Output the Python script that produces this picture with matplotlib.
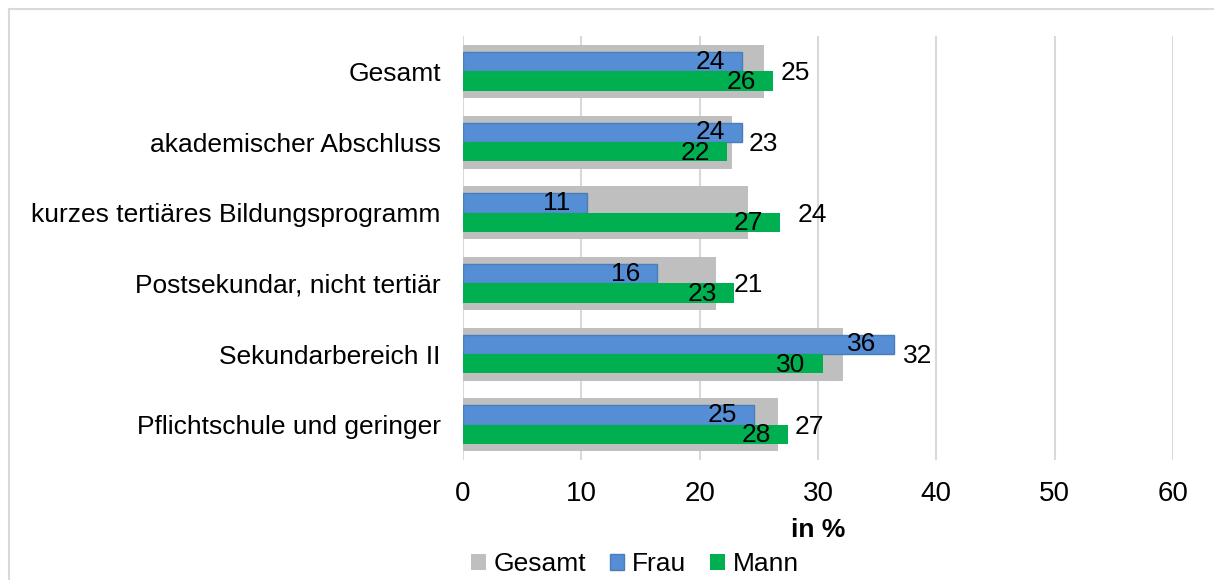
import matplotlib
matplotlib.use("Agg")
import matplotlib.pyplot as plt
from matplotlib.patches import Patch
from matplotlib.lines import Line2D
import numpy as np

plt.rcParams['font.family'] = ['Liberation Sans', 'DejaVu Sans']

categories = ["Gesamt", "akademischer Abschluss", "kurzes tertiäres Bildungsprogramm",
              "Postsekundar, nicht tertiär", "Sekundarbereich II", "Pflichtschule und geringer"]
gesamt = [25.4, 22.7, 24.1, 21.4, 32.1, 26.6]
frau = [23.6, 23.6, 10.5, 16.4, 36.4, 24.6]
mann = [26.2, 22.3, 26.8, 22.9, 30.4, 27.5]
gesamt_labels = ["25", "23", "24", "21", "32", "27"]
frau_labels = ["24", "24", "11", "16", "36", "25"]
mann_labels = ["26", "22", "27", "23", "30", "28"]
xticks = [0, 10, 20, 30, 40, 50, 60]

# label placement (pixels right of grey bar end)
gesamt_label_shift_px = [17, 17, 49, 17, 60, 17]

C_GREY = "#bfbfbf"
C_BLUE = "#558ed5"
C_BLUE_EDGE = "#4a7ebb"
C_GREEN = "#00b050"

W, H = 1214, 580
fig = plt.figure(figsize=(W / 100, H / 100), dpi=100)
ax = fig.add_axes([463 / W, 1 - 460 / H, (1173 - 463) / W, (460 - 36) / H])

y = np.arange(len(categories))
off = 0.137
hb = 0.275

ax.barh(y, gesamt, height=0.75, color=C_GREY, zorder=2)
ax.barh(y - off, frau, height=hb, color=C_BLUE, edgecolor=C_BLUE_EDGE, linewidth=1, zorder=3)
ax.barh(y + off, mann, height=hb, color=C_GREEN, zorder=3)

ax.set_xlim(0, 60)
ax.set_ylim(len(categories) - 0.5, -0.5)
ax.set_xticks(xticks)
ax.set_xticklabels([str(t) for t in xticks])
ax.set_yticks(y)
ax.set_yticklabels(categories)
ax.tick_params(axis='both', length=0, colors='black')
ax.tick_params(axis='x', pad=15, labelsize=20)
ax.tick_params(axis='y', pad=16, labelsize=19)
ax.xaxis.grid(True, color="#d9d9d9", linewidth=1.5, zorder=0)
ax.set_axisbelow(True)
for s in ax.spines.values():
    s.set_visible(False)

lbl_fs = 19
for i in range(len(categories)):
    ax.annotate(gesamt_labels[i], (gesamt[i], y[i]), xytext=(gesamt_label_shift_px[i], -2),
                textcoords='offset pixels', ha='left', va='center', fontsize=lbl_fs, zorder=5)
    ax.annotate(frau_labels[i], (frau[i], y[i] - off), xytext=(-17, 0),
                textcoords='offset pixels', ha='right', va='center', fontsize=lbl_fs, zorder=5)
    ax.annotate(mann_labels[i], (mann[i], y[i] + off), xytext=(-17, -1),
                textcoords='offset pixels', ha='right', va='center', fontsize=lbl_fs, zorder=5)

fig.text(818 / W, 1 - 530 / H, "in %", ha='center', va='center', fontsize=19, fontweight='bold')

handles = [Patch(facecolor=C_GREY, edgecolor='none'),
           Patch(facecolor=C_BLUE, edgecolor=C_BLUE_EDGE),
           Patch(facecolor=C_GREEN, edgecolor='none')]
fig.legend(handles, ["Gesamt", "Frau", "Mann"], loc='center', ncol=3,
           bbox_to_anchor=(635 / W, 1 - 564 / H), frameon=False, fontsize=19,
           handlelength=0.55, handleheight=0.55, handletextpad=0.3, columnspacing=0.9,
           borderpad=0)

# outer border (top and left visible)
fig.add_artist(Line2D([8.5 / W, 1.0], [1 - 8.5 / H, 1 - 8.5 / H], transform=fig.transFigure,
                      color="#d9d9d9", linewidth=1.5))
fig.add_artist(Line2D([8.5 / W, 8.5 / W], [0, 1 - 8.5 / H], transform=fig.transFigure,
                      color="#d9d9d9", linewidth=1.5))

fig.savefig("out.png", dpi=100)
